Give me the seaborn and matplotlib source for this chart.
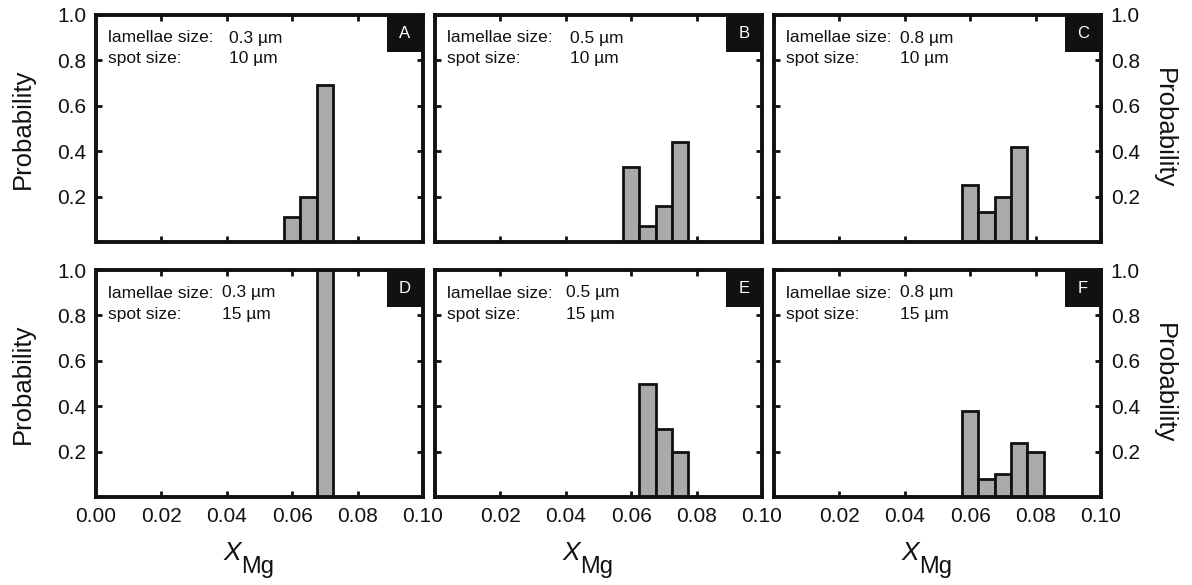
import numpy as np
import pandas as pd
import matplotlib
matplotlib.use("Agg")
import matplotlib.pyplot as plt
import seaborn as sns

# Histogram data: bin centres (X_Mg) and probabilities for each panel
a_x = [0.060, 0.065, 0.070]
a_p = [0.11, 0.20, 0.69]

b_x = [0.060, 0.065, 0.070, 0.075]
b_p = [0.33, 0.07, 0.16, 0.44]

c_x = [0.060, 0.065, 0.070, 0.075]
c_p = [0.25, 0.13, 0.20, 0.42]

d_x = [0.070]
d_p = [1.00]

e_x = [0.065, 0.070, 0.075]
e_p = [0.50, 0.30, 0.20]

f_x = [0.060, 0.065, 0.070, 0.075, 0.080]
f_p = [0.38, 0.08, 0.10, 0.24, 0.20]

panel_letters = ["A", "B", "C", "D", "E", "F"]
lamellae_sizes = ["0.3 µm", "0.5 µm", "0.8 µm", "0.3 µm", "0.5 µm", "0.8 µm"]
spot_sizes = ["10 µm", "10 µm", "10 µm", "15 µm", "15 µm", "15 µm"]
x_ticks = [0.00, 0.02, 0.04, 0.06, 0.08, 0.10]
y_ticks = [0.2, 0.4, 0.6, 0.8, 1.0]
bin_width = 0.005

panels = [(a_x, a_p), (b_x, b_p), (c_x, c_p), (d_x, d_p), (e_x, e_p), (f_x, f_p)]

sns.set_style("ticks")
plt.rcParams["font.family"] = ["Liberation Sans", "DejaVu Sans"]

fig = plt.figure(figsize=(11.92, 5.85), dpi=100)

W, H = 1192.0, 585.0
col_left = [96, 435, 774]
ax_w = 327
row_top = [15, 270]
ax_h = 227
value_offset = [133, 135, 126, 126, 131, 126]
ink = "#111111"

for i, (xs, ps) in enumerate(panels):
    r, c = divmod(i, 3)
    ax = fig.add_axes([col_left[c] / W, (H - row_top[r] - ax_h) / H, ax_w / W, ax_h / H])

    df = pd.DataFrame({"xmg": xs, "prob": ps})
    lo = min(xs) - bin_width / 2
    hi = max(xs) + bin_width / 2
    sns.histplot(data=df, x="xmg", weights="prob", binwidth=bin_width,
                 binrange=(lo, hi), stat="count",
                 color="#aaaaaa", edgecolor=ink, linewidth=2.0, alpha=1.0,
                 ax=ax)

    ax.set_xlim(0, 0.1)
    ax.set_ylim(0, 1.0)
    ax.set_xticks(x_ticks)
    ax.set_yticks(y_ticks)
    ax.set_xticklabels([f"{v:.2f}" for v in x_ticks])
    ax.set_yticklabels([f"{v:.1f}" for v in y_ticks])
    ax.set_xlabel("")
    ax.set_ylabel("")

    for sp in ax.spines.values():
        sp.set_visible(True)
        sp.set_linewidth(2.8)
        sp.set_color(ink)
    ax.tick_params(axis="both", which="both", direction="in", length=4, width=2,
                   color=ink, top=True, right=True, bottom=True, left=True,
                   labelsize=15, pad=7, labelcolor=ink)
    ax.tick_params(axis="x", labelbottom=(r == 1))
    if c == 0:
        ax.tick_params(axis="y", labelleft=True, labelright=False)
        ax.set_ylabel("Probability", fontsize=18.5, labelpad=16, color=ink)
    elif c == 1:
        ax.tick_params(axis="y", labelleft=False, labelright=False)
    else:
        ax.tick_params(axis="y", labelleft=False, labelright=True)
        ax.yaxis.set_label_position("right")
        ax.set_ylabel("Probability", fontsize=18.5, rotation=270, labelpad=26,
                      color=ink)

    if r == 1 and c > 0:
        ax.get_xticklabels()[0].set_visible(False)

    if r == 1:
        xl = ax.set_xlabel("X", fontsize=19, style="italic", labelpad=11,
                           color=ink)
        ax.xaxis.label.set_x(0.418)
        ax.annotate("Mg", xy=(1.0, 0.0), xycoords=xl, xytext=(0, -6),
                    textcoords="offset points", ha="left", va="baseline",
                    fontsize=17, color=ink)

    # Sample description in the upper left corner
    ax.text(12 / ax_w, 1 - 23 / ax_h, "lamellae size:", transform=ax.transAxes,
            fontsize=12.5, va="center", ha="left", color=ink)
    ax.text(12 / ax_w, 1 - 44 / ax_h, "spot size:", transform=ax.transAxes,
            fontsize=12.5, va="center", ha="left", color=ink)
    ax.text(value_offset[i] / ax_w, 1 - 23 / ax_h, lamellae_sizes[i],
            transform=ax.transAxes, fontsize=12.5, va="center", ha="left",
            color=ink)
    ax.text(value_offset[i] / ax_w, 1 - 44 / ax_h, spot_sizes[i],
            transform=ax.transAxes, fontsize=12.5, va="center", ha="left",
            color=ink)

    # Panel letter in a black corner box
    bw, bh = 36 / ax_w, 37 / ax_h
    ax.add_patch(plt.Rectangle((1 - bw, 1 - bh), bw, bh, transform=ax.transAxes,
                               facecolor=ink, edgecolor="none", zorder=5,
                               clip_on=False))
    ax.text(1 - bw / 2, 1 - bh / 2, panel_letters[i], transform=ax.transAxes,
            color="white", fontsize=12, ha="center", va="center", zorder=6)

fig.savefig("out.png", dpi=100)
